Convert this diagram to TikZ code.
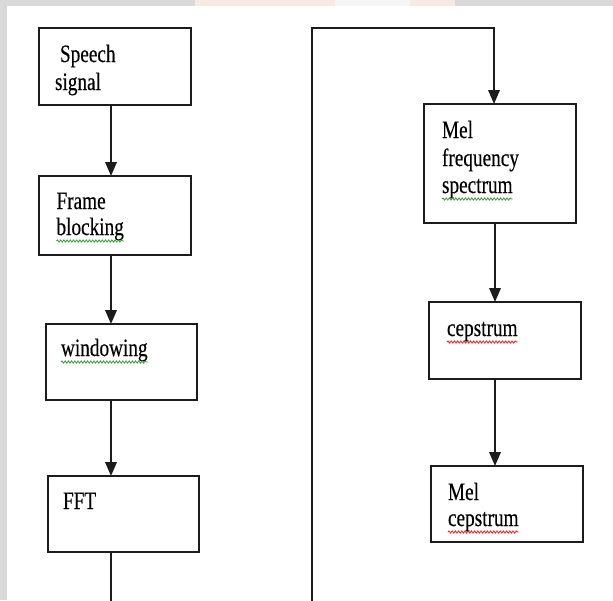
\documentclass[tikz,border=0pt]{standalone}
\usepackage{fontspec}
\setmainfont{Liberation Serif}[FakeStretch=0.77,FakeBold=0.35]
\usetikzlibrary{arrows.meta,decorations.pathmorphing}
\definecolor{bggray}{HTML}{D9D9D9}
\definecolor{peach}{HTML}{F6EAE3}
\definecolor{linec}{HTML}{1C1C1C}
\definecolor{spellgreen}{HTML}{3C9A3C}
\definecolor{spellred}{HTML}{E02828}
\tikzset{
  box/.style={draw=linec,line width=1.9pt,minimum width=152pt,inner sep=0pt,outer sep=0pt},
  txt/.style={anchor=base west,inner sep=0pt,outer sep=0pt,text=black,font=\fontsize{25}{27}\selectfont},
  conn/.style={draw=linec,line width=1.9pt},
  arr/.style={conn,-{Triangle[length=14pt,width=11.5pt]}},
  squig/.style={line width=0.8pt,decorate,decoration={snake,segment length=3.2pt,amplitude=1.1pt}},
}
\begin{document}
\begin{tikzpicture}[x=1pt,y=-1pt]
\useasboundingbox (0,0) rectangle (613,600);
\clip (0,0) rectangle (613,600);
% page background
\fill[white] (0,0) rectangle (613,600);
\fill[bggray] (0,0) rectangle (613,6);
\fill[bggray] (0,0) rectangle (7,600);
\fill[peach] (195,0) rectangle (335,6);
\fill[white!93!gray] (335,0) rectangle (410,6);
\fill[peach] (410,0) rectangle (455,6);

% boxes
\node[box,minimum height=77pt] (b1) at (115,66.5) {};
\node[box,minimum height=79pt] (b2) at (115,215.5) {};
\node[box,minimum width=151pt,minimum height=76pt] (b3) at (121.5,362) {};
\node[box,minimum width=151pt,minimum height=76pt] (b4) at (123.5,514) {};
\node[box,minimum height=119pt] (b5) at (500,163.5) {};
\node[box,minimum height=77pt] (b6) at (505,340.5) {};
\node[box,minimum height=76pt] (b7) at (507,504) {};

% texts
\node[txt] (t1a) at (60,62) {Speech};
\node[txt] (t1b) at (55,90) {signal};
\node[txt] (t2a) at (56.5,209) {Frame};
\node[txt] (t2b) at (56.5,235) {blocking};
\node[txt] (t3) at (61,356) {windowing};
\node[txt] (t4) at (63,509) {FFT};
\node[txt] (t5a) at (442,138) {Mel};
\node[txt] (t5b) at (442,166) {frequency};
\node[txt] (t5c) at (442,193) {spectrum};
\node[txt] (t6) at (447,336) {cepstrum};
\node[txt] (t7a) at (448,500) {Mel};
\node[txt] (t7b) at (448,526) {cepstrum};

% spell-check squiggles
\draw[squig,spellgreen] ([yshift=-6pt]t2b.base west) -- ([yshift=-6pt]t2b.base east);
\draw[squig,spellgreen] ([yshift=-6pt]t3.base west) -- ([yshift=-6pt]t3.base east);
\draw[squig,spellgreen] ([yshift=-6pt]t5c.base west) -- ([yshift=-6pt]t5c.base east);
\draw[squig,spellred] ([yshift=-6pt]t6.base west) -- ([yshift=-6pt]t6.base east);
\draw[squig,spellred] ([yshift=-6pt]t7b.base west) -- ([yshift=-6pt]t7b.base east);

% connector columns
\coordinate (xL) at (111,0);
\coordinate (xR) at (495,0);
\coordinate (c1) at (111,620);
\coordinate (c2) at (312,620);
\coordinate (c3) at (312,28);
\coordinate (c4) at (494,28);

\draw[arr] (b1.south -| xL) -- (b2.north -| xL);
\draw[arr] (b2.south -| xL) -- (b3.north -| xL);
\draw[arr] (b3.south -| xL) -- (b4.north -| xL);
\draw[arr,line join=miter] (b4.south -| xL) -- (c1) -- (c2) -- (c3) -- (c4) -- (b5.north -| c4);
\draw[arr] (b5.south -| xR) -- (b6.north -| xR);
\draw[arr] (b6.south -| xR) -- (b7.north -| xR);
\end{tikzpicture}
\end{document}
